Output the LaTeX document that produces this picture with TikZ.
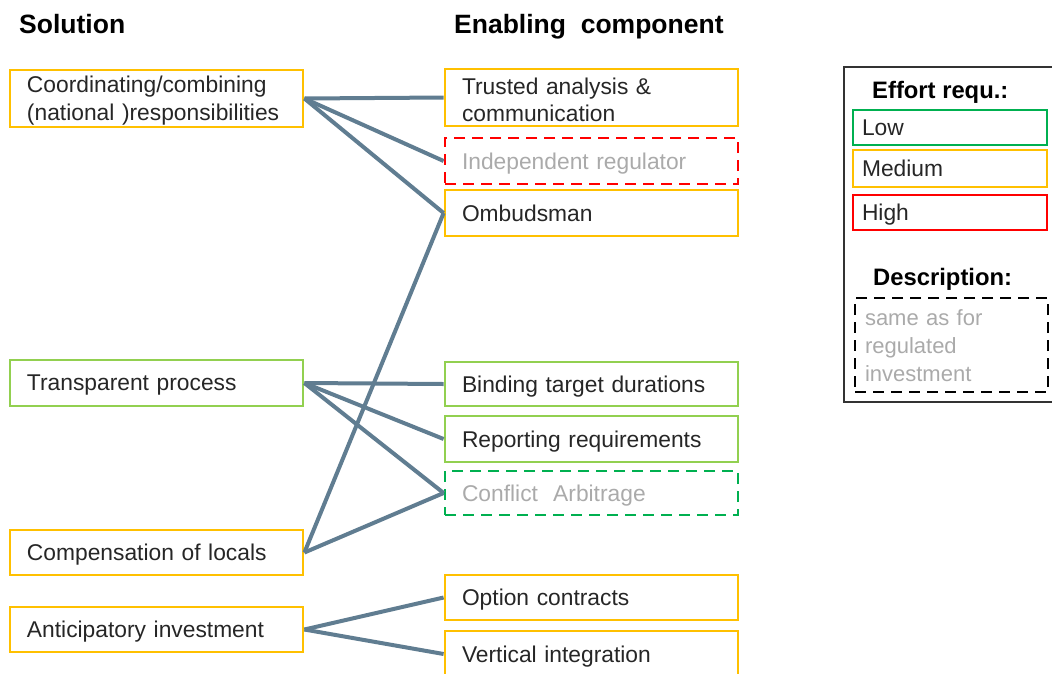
\documentclass[tikz,border=0pt]{standalone}
\usepackage{fontspec}
\setmainfont{Liberation Sans}
\definecolor{effmed}{RGB}{255,192,0}
\definecolor{efflow}{RGB}{146,208,80}
\definecolor{efflowd}{RGB}{0,176,80}
\definecolor{effhigh}{RGB}{255,0,0}
\definecolor{linkcol}{RGB}{96,125,145}
\definecolor{txtdark}{RGB}{38,38,38}
\definecolor{txtgray}{RGB}{170,170,170}
\begin{document}
\begin{tikzpicture}
		[x=1pt,y=-1pt,
		box/.style={rectangle,draw,line width=2.8pt,inner xsep=17pt,inner ysep=0pt,
text width=259pt,minimum height=46pt,align=left,text=txtdark,text depth=0pt,
font=\fontsize{22.8}{27.5}\selectfont},
		medium/.style={box,draw=effmed},
		low/.style={box,draw=efflow},
		lowdash/.style={box,draw=efflowd,dash pattern=on 11pt off 7pt,text=txtgray},
		highdash/.style={box,draw=effhigh,dash pattern=on 11pt off 7pt,text=txtgray},
		legitem/.style={box,inner xsep=9pt,text width=176pt,minimum height=36pt},
		head/.style={anchor=base west,inner sep=0pt,text=black,
font=\bfseries\fontsize{26.5}{31}\selectfont},
		link/.style={-,line width=4pt,draw=linkcol}]
		\useasboundingbox (0,0) rectangle (1052,673);
		% headers
		\node at (19, 33.5) (solhead) [head] {Solution};
		\node at (454, 33.5) (comphead) [head] {Enabling\ \ component};
		% enabling components
		\node at (591.5, 97.5) (trusted) [medium,minimum height=57pt,text depth=23.5pt] {Trusted analysis \&\\communication};
		\node at (591.5, 161) (regulator) [highdash] {Independent regulator};
		\node at (591.5, 213) (ombudsman) [medium] {Ombudsman};
		\node at (591.5, 384) (binding) [low,minimum height=44pt] {Binding target durations};
		\node at (591.5, 439) (reporting) [low] {Reporting requirements};
		\node at (591.5, 493) (conflict) [lowdash,minimum height=44pt] {Conflict\ \ Arbitrage};
		\node at (591.5, 597.5) (option) [medium,minimum height=45pt] {Option contracts};
		\node at (591.5, 654) (vertical) [medium] {Vertical integration};
		% solutions
		\node at (156.5, 98.5) (coordinating) [medium,minimum height=57pt,text depth=28.5pt] {Coordinating/combining\\(national )responsibilities};
		\node at (156.5, 383) (transparent) [low] {Transparent process};
		\node at (156.5, 552.5) (compensation) [medium,minimum height=45pt] {Compensation of locals};
		\node at (156.5, 629.5) (anticipatory) [medium,minimum height=45pt] {Anticipatory investment};
		% links
		\draw[link] (coordinating.east) edge (trusted.west) edge (regulator.west) edge (ombudsman.west);
		\draw[link] (transparent.east) edge (binding.west) edge (reporting.west) edge (conflict.west);
		\draw[link] (compensation.east) edge (ombudsman.west) edge (conflict.west);
		\draw[link] (anticipatory.east) edge (option.west) edge (vertical.west);
		% legend
		\draw[line width=1.2pt,black!80] (844, 67) rectangle (1064, 402);
		\node at (872, 98.5) (efforthead) [head,font=\bfseries\fontsize{23.8}{28}\selectfont] {Effort requ.:};
		\node at (950, 127.5) (leglow) [legitem,draw=efflowd,minimum height=35pt] {Low};
		\node at (950, 168.5) (legmed) [legitem,draw=effmed,minimum height=37pt] {Medium};
		\node at (950, 212.5) (leghigh) [legitem,draw=effhigh,minimum height=35pt] {High};
		\node at (873, 285.5) (deschead) [head,font=\bfseries\fontsize{23.8}{28}\selectfont] {Description:};
		\node at (951.5, 345) (legdesc) [legitem,draw=black,text=txtgray,inner xsep=10pt,text width=173pt,text depth=55pt,
minimum height=94pt,dash pattern=on 11pt off 7pt,font=\fontsize{22}{28}\selectfont] {same as for\\regulated\\investment};
	\end{tikzpicture}
\end{document}
